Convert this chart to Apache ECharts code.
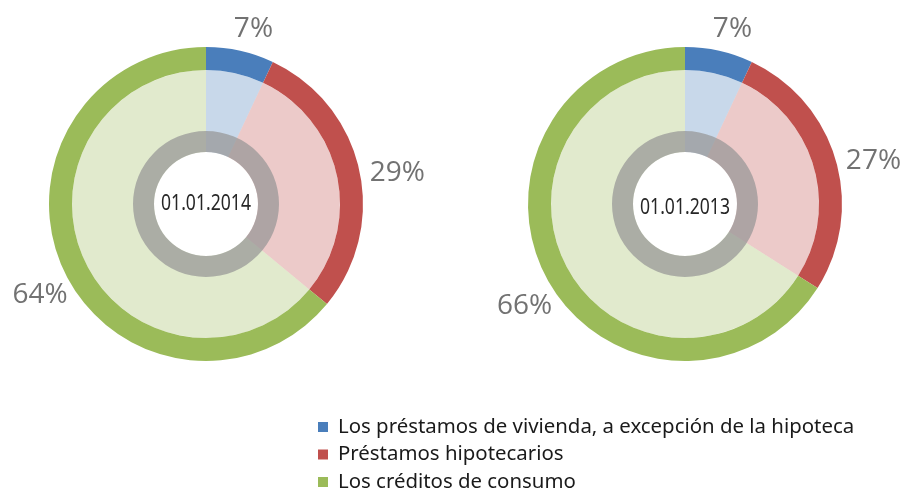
<!DOCTYPE html>
<html>
<head>
<meta charset="UTF-8">
<title>Préstamos</title>
<script src="https://cdn.jsdelivr.net/npm/echarts@6/dist/echarts.min.js"></script>
<style>
  html, body { margin: 0; padding: 0; background: #fff; }
  #main { width: 915px; height: 491px; }
</style>
</head>
<body>
<div id="main"></div>
<script type="text/javascript">
// datos
var categories = ['Los préstamos de vivienda, a excepción de la hipoteca', 'Préstamos hipotecarios', 'Los créditos de consumo'];
var dates = ['01.01.2014', '01.01.2013'];
var share2014 = [7, 29, 64];
var share2013 = [7, 27, 66];

var colors = ['#4a7ebb', '#c0504d', '#9bbb59'];
var centers = [[206, 204], [685, 204]];

// etiqueta en el angulo medio del sector, un poco desplazada como en Excel
function makeLayout(values, center, R) {
  return function (p) {
    var total = 0, before = 0;
    for (var i = 0; i < values.length; i++) {
      total += values[i];
      if (i < p.dataIndex) before += values[i];
    }
    var a = (before + values[p.dataIndex] / 2) / total * Math.PI * 2;
    return {
      x: center[0] + R * Math.sin(a) + 6,
      y: center[1] - R * Math.cos(a) + 10,
      align: 'center',
      verticalAlign: 'middle'
    };
  };
}

function buildData(values, opacity) {
  return values.map(function (v, i) {
    return { name: categories[i], value: v, itemStyle: { color: colors[i], opacity: opacity } };
  });
}

var series = [];
[share2014, share2013].forEach(function (vals, k) {
  series.push({
    type: 'pie',
    center: centers[k],
    radius: [134, 157],
    startAngle: 90,
    avoidLabelOverlap: false,
    animation: false,
    label: {
      show: true,
      position: 'outside',
      formatter: '{c}%',
      fontFamily: 'Open Sans',
      fontSize: 28,
      color: '#727272'
    },
    labelLine: { show: false },
    labelLayout: makeLayout(vals, centers[k], 190),
    emphasis: { disabled: true },
    data: buildData(vals, 1)
  });
});
[share2014, share2013].forEach(function (vals, k) {
  series.push({
    type: 'pie',
    center: centers[k],
    radius: [52, 134],
    startAngle: 90,
    animation: false,
    silent: true,
    label: { show: false },
    labelLine: { show: false },
    data: buildData(vals, 0.3)
  });
});
dates.forEach(function (d, k) {
  series.push({
    type: 'pie',
    center: centers[k],
    radius: [52, 73],
    animation: false,
    silent: true,
    label: { show: false },
    labelLine: { show: false },
    data: [{ name: d, value: 1, itemStyle: { color: '#969696', opacity: 0.72 } }]
  });
});

// fecha en el centro, texto estrechado
var graphics = dates.map(function (d, k) {
  return {
    type: 'text',
    x: centers[k][0],
    y: centers[k][1] + (k === 1 ? 4 : 0),
    scaleX: 0.8,
    style: {
      text: d,
      font: '22px "Noto Sans"',
      fill: '#262626',
      align: 'center',
      verticalAlign: 'middle'
    },
    silent: true
  };
});

var myChart = echarts.init(document.getElementById('main'));
var option = {
  backgroundColor: '#ffffff',
  graphic: graphics,
  legend: {
    data: categories,
    orient: 'vertical',
    left: 313,
    top: 412,
    height: 100,
    itemWidth: 10,
    itemHeight: 10,
    itemGap: 7.5,
    icon: 'rect',
    selectedMode: false,
    textStyle: { fontFamily: 'Noto Sans', fontSize: 20.4, lineHeight: 20, color: '#1a1a1a', padding: [0, 0, 0, 5] }
  },
  series: series
};
myChart.setOption(option);
</script>
</body>
</html>
